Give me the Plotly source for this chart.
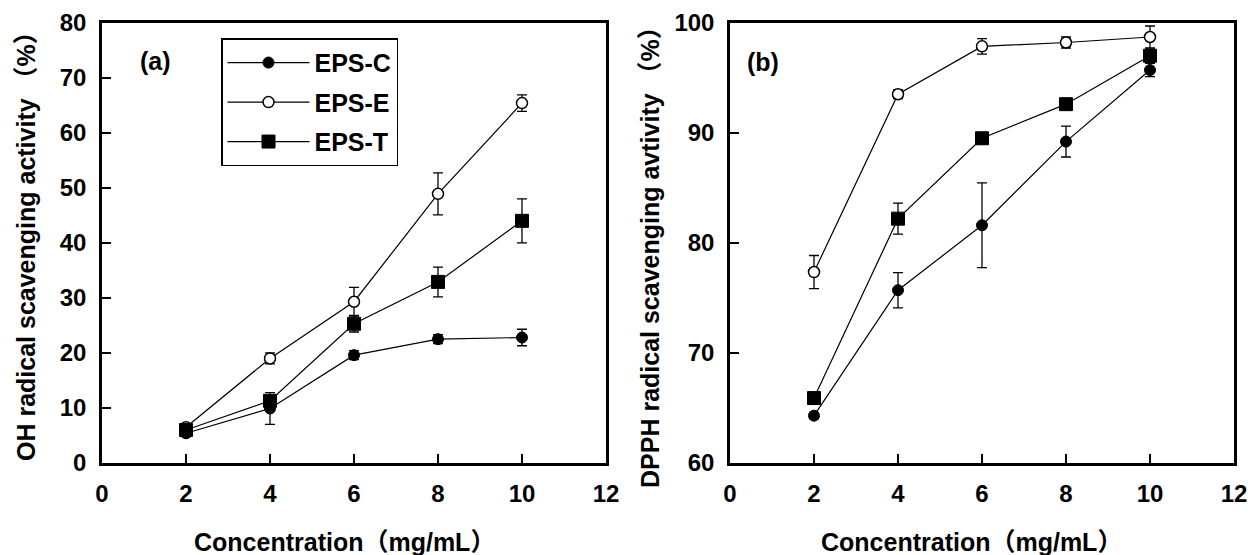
import plotly.graph_objects as go

conc = [2, 4, 6, 8, 10]
series_names = ["EPS-C", "EPS-E", "EPS-T"]

oh_c = [5.4, 9.9, 19.6, 22.5, 22.8]
oh_c_err = [0.6, 2.9, 0.8, 0.8, 1.5]
oh_e = [6.5, 19.0, 29.3, 48.9, 65.4]
oh_e_err = [0.5, 1.0, 2.6, 3.8, 1.5]
oh_t = [6.0, 11.3, 25.3, 32.9, 44.0]
oh_t_err = [0.8, 1.0, 1.5, 2.7, 4.0]

dpph_c = [64.3, 75.7, 81.6, 89.2, 95.7]
dpph_c_err = [0.3, 1.6, 3.85, 1.4, 0.6]
dpph_e = [77.35, 93.5, 97.85, 98.2, 98.7]
dpph_e_err = [1.5, 0.4, 0.7, 0.5, 1.0]
dpph_t = [65.9, 82.2, 89.5, 92.6, 97.0]
dpph_t_err = [0.5, 1.4, 0.5, 0.4, 0.6]

x_ticks = [0, 2, 4, 6, 8, 10, 12]
oh_ticks = [0, 10, 20, 30, 40, 50, 60, 70, 80]
dpph_ticks = [60, 70, 80, 90, 100]

W, H = 1251, 555
FONT = "Liberation Sans, Arial, Noto Sans CJK SC, sans-serif"

styles = {
    "EPS-C": dict(symbol="circle", size=11, color="black", line=dict(color="black", width=1)),
    "EPS-E": dict(symbol="circle", size=11, color="white", line=dict(color="black", width=1.5)),
    "EPS-T": dict(symbol="square", size=13, color="black", line=dict(color="black", width=1)),
}

fig = go.Figure()

def add(name, y, err, xa, ya, show):
    fig.add_trace(go.Scatter(
        x=conc, y=y, name=name, mode="lines+markers",
        line=dict(color="black", width=1.2),
        marker=styles[name],
        error_y=dict(type="data", array=err, visible=True, color="black", thickness=1.3, width=5),
        xaxis=xa, yaxis=ya, showlegend=show, legendgroup=name,
    ))

for name, y, e in zip(series_names, [oh_c, oh_e, oh_t], [oh_c_err, oh_e_err, oh_t_err]):
    add(name, y, e, "x", "y", True)
for name, y, e in zip(series_names, [dpph_c, dpph_e, dpph_t], [dpph_c_err, dpph_e_err, dpph_t_err]):
    add(name, y, e, "x2", "y2", False)

ybot = 1 - 463 / H
ytop = 1 - 22.7 / H

axis_common = dict(
    showline=True, mirror=True, linecolor="black", linewidth=2.5,
    ticks="inside", ticklen=9, tickwidth=2, tickcolor="black",
    showgrid=False, zeroline=False, automargin=False,
    tickfont=dict(family=FONT, size=24, color="black", weight="bold"),
)

fig.update_layout(
    width=W, height=H,
    margin=dict(l=0, r=0, t=0, b=0, pad=0, autoexpand=False),
    paper_bgcolor="white", plot_bgcolor="white",
    font=dict(family=FONT, color="black"),
    xaxis=dict(domain=[102 / W, 606 / W], range=[0, 12], tickvals=x_ticks,
               anchor="y", ticklabelstandoff=7, **axis_common),
    yaxis=dict(domain=[ybot, ytop], range=[0, 80], tickvals=oh_ticks,
               anchor="x", ticklabelstandoff=8, **axis_common),
    xaxis2=dict(domain=[730 / W, 1234 / W], range=[0, 12], tickvals=x_ticks,
                anchor="y2", ticklabelstandoff=7, **axis_common),
    yaxis2=dict(domain=[ybot, ytop], range=[60, 100], tickvals=dpph_ticks,
                anchor="x2", ticklabelstandoff=8, **axis_common),
    legend=dict(
        x=221 / W, y=1 - 38.3 / H, xanchor="left", yanchor="top",
        bordercolor="black", borderwidth=1.5, bgcolor="white",
        font=dict(family=FONT, size=25, color="black", weight="bold"),
        itemwidth=82, tracegroupgap=4,
    ),
)

title_font = dict(family=FONT, size=25, color="black", weight="bold")
annos = [
    dict(text="Concentration（mg/mL）", x=344 / W, y=1 - 542 / H, textangle=0),
    dict(text="Concentration（mg/mL）", x=971 / W, y=1 - 542 / H, textangle=0),
    dict(text="OH radical scavenging activity （%）", x=26 / W, y=1 - 240 / H, textangle=-90),
    dict(text="DPPH radical scavenging avtivity （%）", x=650 / W, y=1 - 251 / H, textangle=-90),
    dict(text="(a)", x=155 / W, y=1 - 61 / H, textangle=0),
    dict(text="(b)", x=763 / W, y=1 - 62 / H, textangle=0),
]
for a in annos:
    fig.add_annotation(xref="paper", yref="paper", showarrow=False,
                       xanchor="center", yanchor="middle", font=title_font, **a)

fig.write_html(
    "out.html",
    config={"displayModeBar": False},
    post_script="document.body.style.margin='0px';document.body.style.overflow='hidden';",
)
